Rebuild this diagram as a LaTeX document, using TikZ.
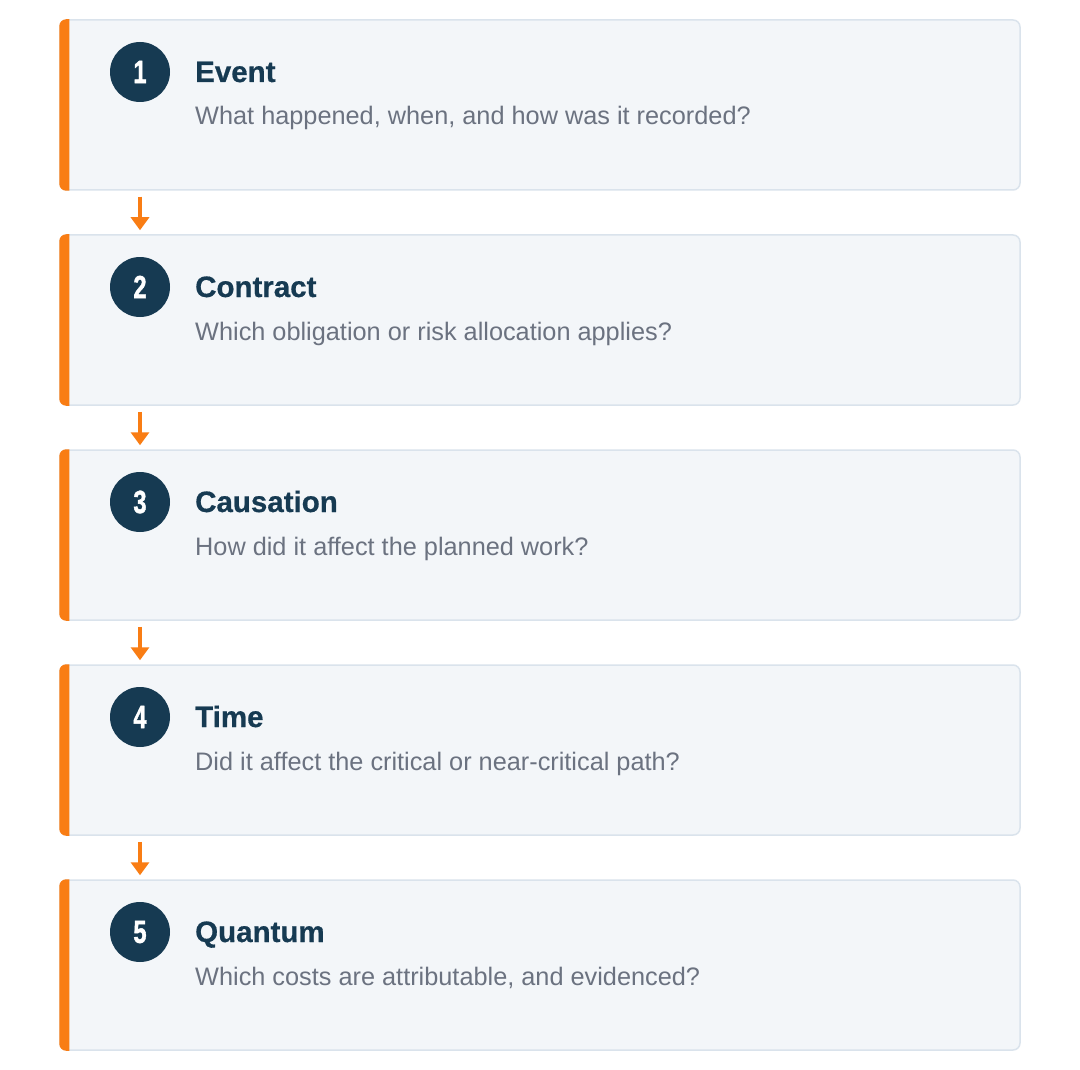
\documentclass[tikz,border=0pt]{standalone}
\usepackage{fontspec}
\setmainfont{Liberation Sans}
\newfontfamily\numfont[FakeBold=1.6]{Liberation Sans Bold}
\newfontfamily\titlefont[FakeBold=0.6]{Liberation Sans Bold}
\usetikzlibrary{arrows.meta,calc}
\definecolor{navy}{HTML}{163A52}
\definecolor{accent}{HTML}{F97D14}
\definecolor{boxfill}{HTML}{F3F6F9}
\definecolor{boxline}{HTML}{DAE3EC}
\definecolor{subgray}{HTML}{6B7280}
\begin{document}
\begin{tikzpicture}[x=1pt,y=-1pt,
  card/.style={draw=boxline, line width=1.5pt, fill=boxfill, rounded corners=7pt,
    minimum width=960pt, minimum height=170pt, inner sep=0pt},
  numcirc/.style={circle, fill=navy, minimum size=60pt, inner sep=0pt, text=white,
    font=\fontsize{32}{32}\selectfont\numfont},
  titletext/.style={anchor=base west, inner sep=0pt, text=navy,
    font=\fontsize{29.5}{29.5}\selectfont\titlefont},
  subtext/.style={anchor=base west, inner sep=0pt, text=subgray,
    font=\fontsize{25.3}{25.3}\selectfont},
  flowarrow/.style={draw=accent, line width=3.5pt, -{Triangle[width=18pt,length=13pt]}}
]
\useasboundingbox[fill=white] (0,0) rectangle (1080,1070);
\foreach \i/\num/\ttl/\sub in {
  1/1/Event/{What happened, when, and how was it recorded?},
  2/2/Contract/{Which obligation or risk allocation applies?},
  3/3/Causation/{How did it affect the planned work?},
  4/4/Time/{Did it affect the critical or near-critical path?},
  5/5/Quantum/{Which costs are attributable, and evidenced?}}{
  \pgfmathsetmacro{\top}{20+215*(\i-1)}
  \node[card] (b\i) at (540,\top+85) {};
  \begin{scope}
    \clip (b\i.north west) rectangle ($(b\i.south west)+(10,0)$);
    \fill[accent, rounded corners=7pt] (b\i.north west) rectangle (b\i.south east);
  \end{scope}
  \node[numcirc] (c\i) at (140,\top+52) {\scalebox{0.74}[1]{\num}};
  \node[titletext] (t\i) at (195,\top+62) {\ttl};
  \node[subtext] (s\i) at (195,\top+105) {\sub};
}
\foreach \i [evaluate=\i as \j using int(\i+1)] in {1,2,3,4}{
  \draw[flowarrow] ($(b\i.south -| c\i)+(0,6)$) -- ($(b\j.north -| c\j)+(0,-4)$);
}
\end{tikzpicture}
\end{document}
